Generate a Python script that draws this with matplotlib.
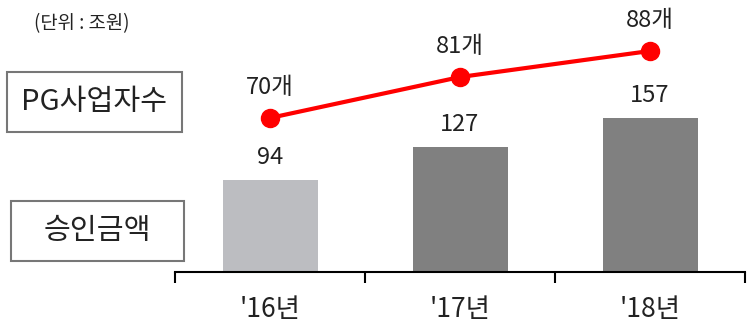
import matplotlib.pyplot as plt
from matplotlib.patches import Rectangle

plt.rcParams['font.family'] = ['Noto Sans CJK KR', 'DejaVu Sans']

years = ["'16년", "'17년", "'18년"]
amounts = [94, 127, 157]          # 승인금액 (조원)
merchants = [70, 81, 88]          # PG사업자수 (개)
bar_colors = ['#bcbdc1', '#808080', '#808080']

fig = plt.figure(figsize=(7.5, 3.24), dpi=100)
ax = fig.add_axes([175 / 750, 1 - 272 / 324, 570 / 750, 272 / 324])

x = range(len(years))
ax.bar(x, amounts, width=0.5, color=bar_colors, zorder=2)
for i, v in enumerate(amounts):
    ax.annotate(str(v), (i, v), xytext=(0, 8), textcoords='offset points',
                ha='center', va='bottom', fontsize=17, color='#222222')

ax.set_xlim(-0.5, len(years) - 0.5)
ax.set_ylim(0, 277)
for s in ['top', 'right', 'left']:
    ax.spines[s].set_visible(False)
ax.spines['bottom'].set_linewidth(1.5)
ax.set_yticks([])
ax.set_xticks(list(x))
ax.set_xticklabels(years, fontsize=19, color='#222222')
ax.tick_params(axis='x', which='major', length=0, pad=17)
ax.set_xticks([i - 0.5 for i in range(len(years) + 1)], minor=True)
ax.tick_params(axis='x', which='minor', length=8, width=1.5)

ax2 = ax.twinx()
ax2.set_ylim(28.6, 101.7)
ax2.axis('off')
ax2.plot(x, merchants, color='#ff0000', lw=3, marker='o', markersize=13, zorder=3)
for i, v in enumerate(merchants):
    ax2.annotate(f'{v}개', (i, v), xytext=(0, 14), textcoords='offset points',
                 ha='center', va='bottom', fontsize=17, color='#222222')

# legend boxes on the left
fig.patches.append(Rectangle((7 / 750, 1 - 132 / 324), 175 / 750, 60 / 324,
                             transform=fig.transFigure, fill=False,
                             edgecolor='#777777', lw=1.5))
fig.text(94 / 750, 1 - 102 / 324, 'PG사업자수', ha='center', va='center',
         fontsize=21, color='#222222')
fig.patches.append(Rectangle((11 / 750, 1 - 261 / 324), 173 / 750, 60 / 324,
                             transform=fig.transFigure, fill=False,
                             edgecolor='#777777', lw=1.5))
fig.text(97 / 750, 1 - 231 / 324, '승인금액', ha='center', va='center',
         fontsize=21, color='#222222')

fig.text(82 / 750, 1 - 24 / 324, '(단위 : 조원)', ha='center', va='center',
         fontsize=13.5, color='#222222')

fig.savefig('out.png', dpi=100)
